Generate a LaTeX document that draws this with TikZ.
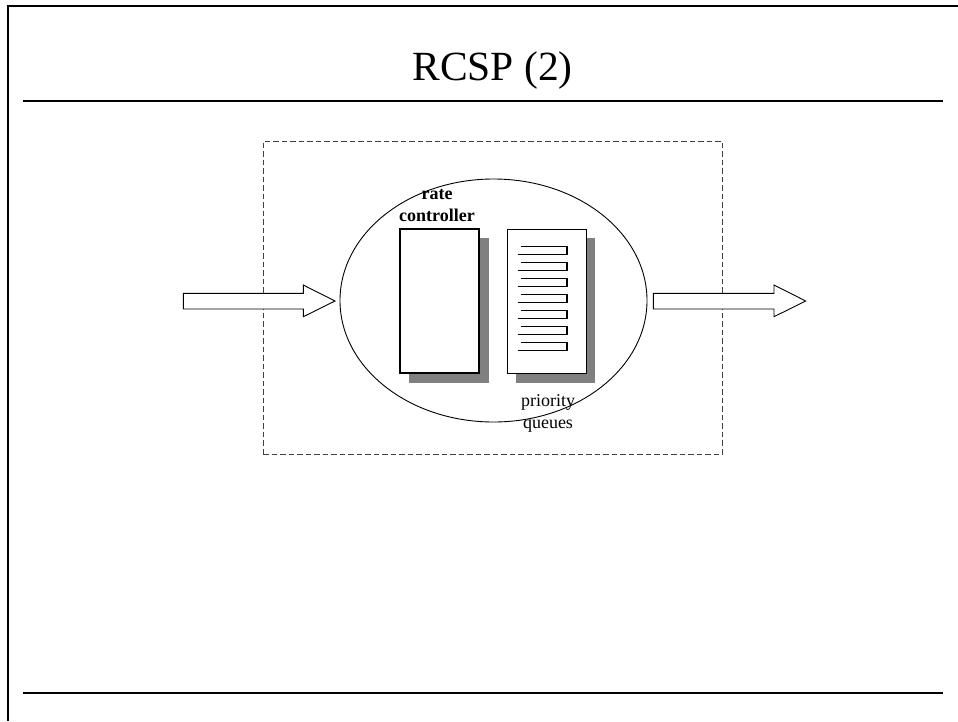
\documentclass[tikz,border=0pt]{standalone}
\usepackage{fontspec}
\setmainfont{Liberation Serif}
\usetikzlibrary{shapes.geometric}
\begin{document}
\begin{tikzpicture}[x=1pt,y=-1pt,
  frameline/.style={line width=2pt},
  ruleline/.style={line width=1.6pt},
  blockarrow/.style={draw, line width=0.9pt, fill=white, line join=miter},
  shadowbox/.style={fill=black!50, draw=none},
  ctrlbox/.style={draw, line width=2pt, fill=white},
  queuebox/.style={draw, line width=0.9pt, fill=white},
  queueline/.style={line width=1.2pt},
  lbl/.style={font=\fontsize{18}{22}\selectfont, align=center, inner sep=0pt}
]
\useasboundingbox (0,0) rectangle (958,721);

% slide frame and rules
\draw[frameline] (958,6) -- (8,6) -- (8,721);
\draw[ruleline] (23,101) -- (943,101);
\draw[ruleline] (23,693) -- (943,693);

% title
\node[anchor=base, inner sep=0pt, font=\fontsize{41.5}{48}\selectfont] (title) at (492.5,80) {RCSP (2)};

% scheduler boundary
\node[draw=black!75, dashed, dash pattern=on 5.5pt off 3pt, line width=1pt,
      minimum width=459pt, minimum height=313pt, inner sep=0pt] (sched) at (492.5,297.5) {};

% server ellipse
\node[ellipse, draw, line width=0.9pt, minimum width=307pt, minimum height=243pt, inner sep=0pt] (server) at (493.5,300.5) {};

% rate controller with shadow
\fill[shadowbox] (409,238) rectangle (489,383);
\node[ctrlbox, minimum width=79pt, minimum height=144pt, inner sep=0pt] (ctrl) at (439.5,301) {};

% priority queues with shadow
\fill[shadowbox] (516,238) rectangle (595,383);
\node[queuebox, minimum width=79pt, minimum height=144pt, inner sep=0pt] (queues) at (546.5,301) {};
\foreach \k in {0,...,6} {
  \pgfmathsetmacro{\t}{246.7+16*\k}
  \draw[queueline] (521,\t) -- (567,\t) -- (567,\t+8);
  \draw[queueline] (517.5,\t+8) -- (568,\t+8);
}

% labels (base anchor sits on the last line)
\node[lbl, font=\fontsize{18}{22}\selectfont\bfseries, anchor=base] (ratelbl) at (437,221) {rate\\controller};
\node[lbl, anchor=base] (prilbl) at (548,428) {priority\\queues};

% input and output block arrows
\draw[blockarrow] (183.3,293.3) -- (303.3,293.3) -- (303.3,285) -- (335,301)
  -- (303.3,316.7) -- (303.3,309) -- (183.3,309) -- cycle;
\draw[blockarrow] (653.3,293.3) -- (774,293.3) -- (774,285) -- (805.7,301)
  -- (774,316.7) -- (774,309) -- (653.3,309) -- cycle;
\end{tikzpicture}
\end{document}
